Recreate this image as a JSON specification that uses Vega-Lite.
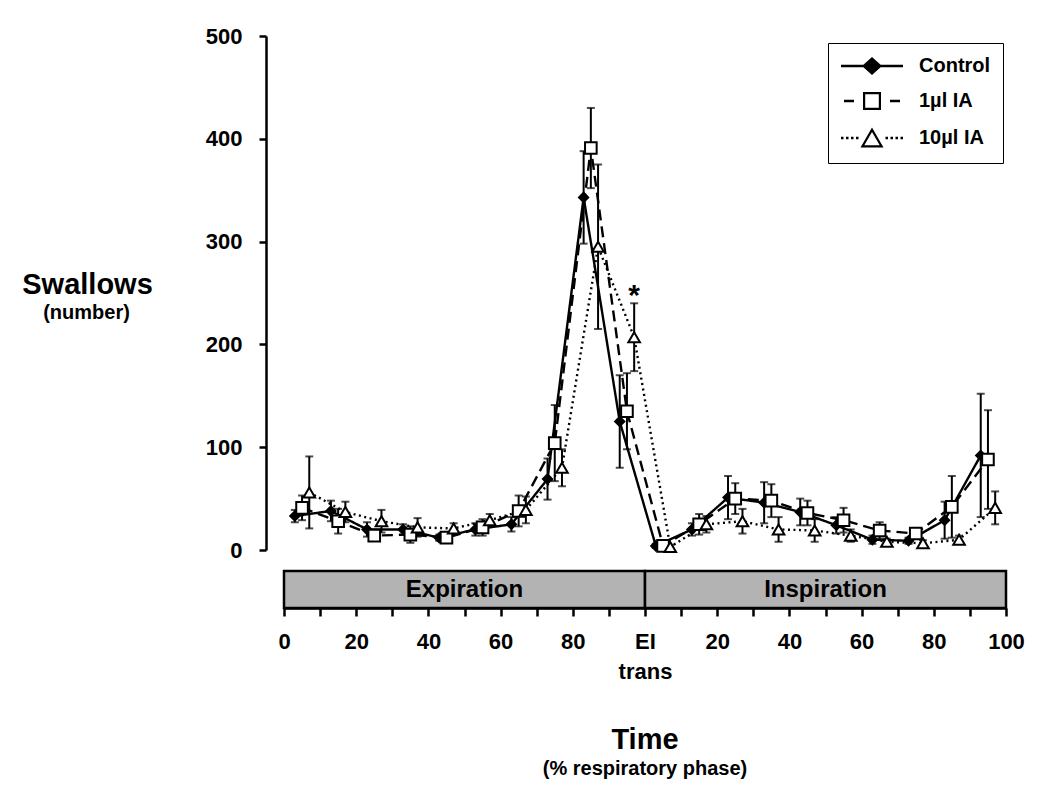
{
  "$schema": "https://vega.github.io/schema/vega-lite/v6.json",
  "background": "white",
  "padding": {"left": 21, "top": 25, "right": 5, "bottom": 5},
  "config": {
    "font": "Liberation Sans",
    "view": {"stroke": null},
    "axis": {"grid": false, "labelFont": "Liberation Sans", "titleFont": "Liberation Sans", "labelFontWeight": "bold", "titleFontWeight": "bold", "labelColor": "black", "titleColor": "black", "domainColor": "black", "tickColor": "black"},
    "legend": {
      "orient": "none", "legendX": 544, "legendY": 7, "padding": 12,
      "strokeColor": "black", "fillColor": "white",
      "labelFont": "Liberation Sans", "labelFontSize": 20, "labelFontWeight": "bold", "labelColor": "black",
      "symbolSize": 400, "symbolFillColor": "black", "symbolOpacity": 1,
      "rowPadding": 11, "labelOffset": 57
    }
  },
  "datasets": {
    "series": [
      {"group": "Control", "x": 3, "mean": 33, "sem": 6},
      {"group": "Control", "x": 13, "mean": 38, "sem": 10},
      {"group": "Control", "x": 23, "mean": 20, "sem": 7},
      {"group": "Control", "x": 33, "mean": 20, "sem": 5},
      {"group": "Control", "x": 43, "mean": 12, "sem": 3},
      {"group": "Control", "x": 53, "mean": 20, "sem": 6},
      {"group": "Control", "x": 63, "mean": 25, "sem": 7},
      {"group": "Control", "x": 73, "mean": 69, "sem": 20},
      {"group": "Control", "x": 83, "mean": 343, "sem": 45},
      {"group": "Control", "x": 93, "mean": 125, "sem": 45},
      {"group": "Control", "x": 103, "mean": 4, "sem": 2},
      {"group": "Control", "x": 113, "mean": 20, "sem": 6},
      {"group": "Control", "x": 123, "mean": 51, "sem": 21},
      {"group": "Control", "x": 133, "mean": 46, "sem": 20},
      {"group": "Control", "x": 143, "mean": 37, "sem": 13},
      {"group": "Control", "x": 153, "mean": 24, "sem": 8},
      {"group": "Control", "x": 163, "mean": 10, "sem": 4},
      {"group": "Control", "x": 173, "mean": 9, "sem": 3},
      {"group": "Control", "x": 183, "mean": 29, "sem": 18},
      {"group": "Control", "x": 193, "mean": 92, "sem": 60},
      {"group": "1µl IA", "x": 5, "mean": 41, "sem": 12},
      {"group": "1µl IA", "x": 15, "mean": 28, "sem": 12},
      {"group": "1µl IA", "x": 25, "mean": 14, "sem": 5},
      {"group": "1µl IA", "x": 35, "mean": 15, "sem": 8},
      {"group": "1µl IA", "x": 45, "mean": 12, "sem": 4},
      {"group": "1µl IA", "x": 55, "mean": 22, "sem": 8},
      {"group": "1µl IA", "x": 65, "mean": 38, "sem": 15},
      {"group": "1µl IA", "x": 75, "mean": 104, "sem": 37},
      {"group": "1µl IA", "x": 85, "mean": 391, "sem": 39},
      {"group": "1µl IA", "x": 95, "mean": 135, "sem": 37},
      {"group": "1µl IA", "x": 105, "mean": 4, "sem": 2},
      {"group": "1µl IA", "x": 115, "mean": 25, "sem": 10},
      {"group": "1µl IA", "x": 125, "mean": 50, "sem": 15},
      {"group": "1µl IA", "x": 135, "mean": 48, "sem": 16},
      {"group": "1µl IA", "x": 145, "mean": 36, "sem": 12},
      {"group": "1µl IA", "x": 155, "mean": 29, "sem": 12},
      {"group": "1µl IA", "x": 165, "mean": 19, "sem": 8},
      {"group": "1µl IA", "x": 175, "mean": 16, "sem": 4},
      {"group": "1µl IA", "x": 185, "mean": 42, "sem": 30},
      {"group": "1µl IA", "x": 195, "mean": 88, "sem": 48},
      {"group": "10µl IA", "x": 7, "mean": 56, "sem": 35},
      {"group": "10µl IA", "x": 17, "mean": 37, "sem": 10},
      {"group": "10µl IA", "x": 27, "mean": 28, "sem": 11},
      {"group": "10µl IA", "x": 37, "mean": 22, "sem": 9},
      {"group": "10µl IA", "x": 47, "mean": 21, "sem": 5},
      {"group": "10µl IA", "x": 57, "mean": 29, "sem": 6},
      {"group": "10µl IA", "x": 67, "mean": 39, "sem": 13},
      {"group": "10µl IA", "x": 77, "mean": 80, "sem": 18},
      {"group": "10µl IA", "x": 87, "mean": 295, "sem": 80},
      {"group": "10µl IA", "x": 97, "mean": 207, "sem": 33},
      {"group": "10µl IA", "x": 107, "mean": 3, "sem": 2},
      {"group": "10µl IA", "x": 117, "mean": 25, "sem": 8},
      {"group": "10µl IA", "x": 127, "mean": 28, "sem": 12},
      {"group": "10µl IA", "x": 137, "mean": 20, "sem": 12},
      {"group": "10µl IA", "x": 147, "mean": 19, "sem": 11},
      {"group": "10µl IA", "x": 157, "mean": 14, "sem": 6},
      {"group": "10µl IA", "x": 167, "mean": 8, "sem": 3},
      {"group": "10µl IA", "x": 177, "mean": 6.5, "sem": 3},
      {"group": "10µl IA", "x": 187, "mean": 10, "sem": 4},
      {"group": "10µl IA", "x": 197, "mean": 41, "sem": 16}
    ],
    "phases": [
      {"phase": "Expiration", "start": 0, "end": 100},
      {"phase": "Inspiration", "start": 100, "end": 200}
    ],
    "notes": [
      {"x": 97, "y": 238, "label": "*"}
    ]
  },
  "bounds": "flush",
  "spacing": 21,
  "vconcat": [
    {
      "width": 722,
      "height": 514,
      "data": {"name": "series"},
      "layer": [
        {
          "mark": {"type": "line", "color": "black", "strokeWidth": 2.4},
          "encoding": {
            "x": {"field": "x", "type": "quantitative", "scale": {"domain": [0, 200], "nice": false}, "axis": null},
            "y": {"field": "mean", "type": "quantitative", "scale": {"domain": [0, 500], "nice": false},
              "axis": {"orient": "left", "values": [0, 100, 200, 300, 400, 500], "offset": 18, "tickSize": 7, "tickWidth": 2.5, "domainWidth": 2.5,
                "labelFontSize": 22, "labelPadding": 17,
                "title": "Swallows", "titleFontSize": 29, "titleAngle": 0, "titleAlign": "center", "titleBaseline": "alphabetic", "titleX": -179, "titleY": 257}},
            "detail": {"field": "group", "type": "nominal"},
            "strokeDash": {"condition": [{"test": "datum.group === 'Control'", "value": [1, 0]}, {"test": "datum.group === '1µl IA'", "value": [11, 6]}], "value": [2, 3.5]}
          }
        },
        {
          "mark": {"type": "errorbar", "ticks": true, "size": 8, "thickness": 2, "color": "black"},
          "encoding": {
            "x": {"field": "x", "type": "quantitative", "scale": {"domain": [0, 200], "nice": false}, "axis": null},
            "y": {"field": "mean", "type": "quantitative", "scale": {"domain": [0, 500], "nice": false}, "axis": null},
            "yError": {"field": "sem"}
          }
        },
        {
          "mark": {"type": "point", "filled": true, "stroke": "black", "strokeWidth": 2, "opacity": 1},
          "encoding": {
            "x": {"field": "x", "type": "quantitative", "scale": {"domain": [0, 200], "nice": false}, "axis": null},
            "y": {"field": "mean", "type": "quantitative", "scale": {"domain": [0, 500], "nice": false}, "axis": null},
            "shape": {"condition": [{"test": "datum.group === 'Control'", "value": "diamond"}, {"test": "datum.group === '1µl IA'", "value": "square"}], "value": "triangle-up"},
            "fill": {"condition": {"test": "datum.group === 'Control'", "value": "black"}, "value": "white"},
            "size": {"condition": {"test": "datum.group === 'Control'", "value": 85}, "value": 135}
          }
        },
        {
          "mark": {"type": "point", "filled": true, "fill": "black", "opacity": 0},
          "encoding": {
            "x": {"field": "x", "type": "quantitative", "scale": {"domain": [0, 200], "nice": false}, "axis": null},
            "y": {"field": "mean", "type": "quantitative", "scale": {"domain": [0, 500], "nice": false}, "axis": null},
            "shape": {"field": "group", "type": "nominal",
              "scale": {"domain": ["Control", "1µl IA", "10µl IA"],
                "range": [
                  "M-1,-0.12H1.3V0.12H-1ZM2.1,-0.9L3.1,0L2.1,0.9L1.1,0ZM2.9,-0.12H5.2V0.12H2.9Z",
                  "M-0.7,-0.12H0.3V0.12H-0.7ZM1.2,-0.9H3V0.9H1.2ZM1.42,-0.68V0.68H2.78V-0.68ZM3.9,-0.12H4.9V0.12H3.9Z",
                  "M-1,-0.12H-0.75V0.12H-1ZM-0.5,-0.12H-0.25V0.12H-0.5ZM0,-0.12H0.25V0.12H0ZM0.5,-0.12H0.75V0.12H0.5ZM3.45,-0.12H3.7V0.12H3.45ZM3.95,-0.12H4.2V0.12H3.95ZM4.45,-0.12H4.7V0.12H4.45ZM4.95,-0.12H5.2V0.12H4.95ZM2.1,-1.05L3.25,0.95L0.95,0.95ZM2.1,-0.61L1.33,0.73L2.87,0.73Z"
                ]},
              "legend": {"title": null}}
          }
        },
        {
          "data": {"name": "notes"},
          "mark": {"type": "text", "fontSize": 30, "fontWeight": "bold", "align": "center", "baseline": "alphabetic", "color": "black"},
          "encoding": {
            "x": {"field": "x", "type": "quantitative", "scale": {"domain": [0, 200], "nice": false}, "axis": null},
            "y": {"field": "y", "type": "quantitative", "scale": {"domain": [0, 500], "nice": false},
              "axis": {"orient": "left", "offset": 18, "labels": false, "ticks": false, "domain": false,
                "title": "(number)", "titleFontSize": 20, "titleAngle": 0, "titleAlign": "center", "titleBaseline": "alphabetic", "titleX": -180, "titleY": 282}},
            "text": {"field": "label"}
          }
        }
      ],
      "resolve": {"axis": {"y": "independent"}}
    },
    {
      "width": 722,
      "height": 37,
      "data": {"name": "phases"},
      "layer": [
        {
          "mark": {"type": "rect", "fill": "#b3b3b3", "stroke": "black", "strokeWidth": 2.5},
          "encoding": {
            "x": {"field": "start", "type": "quantitative", "scale": {"domain": [0, 200], "nice": false},
              "axis": {"orient": "bottom", "values": [0, 10, 20, 30, 40, 50, 60, 70, 80, 90, 100, 110, 120, 130, 140, 150, 160, 170, 180, 190, 200],
                "labelExpr": "datum.value == 100 ? ['EI', 'trans'] : (datum.value % 20 == 0 ? '' + (datum.value > 100 ? datum.value - 100 : datum.value) : '')",
                "tickSize": 8, "tickWidth": 2.5, "domainWidth": 2.5, "labelFontSize": 22, "labelPadding": 15, "labelLineHeight": 30,
                "labelOverlap": false, "labelFlush": false, "labelBound": false,
                "title": "Time", "titleFontSize": 29, "titleAlign": "center", "titleBaseline": "alphabetic", "titleX": 360.5, "titleY": 140}},
            "x2": {"field": "end"},
            "y": {"datum": "band", "type": "nominal", "scale": {"paddingInner": 0, "paddingOuter": 0}, "axis": null}
          }
        },
        {
          "mark": {"type": "text", "dx": 180.5, "fontSize": 24, "fontWeight": "bold", "align": "center", "baseline": "middle", "color": "black"},
          "encoding": {
            "x": {"field": "start", "type": "quantitative", "scale": {"domain": [0, 200], "nice": false},
              "axis": {"orient": "bottom", "labels": false, "ticks": false, "domain": false,
                "title": "(% respiratory phase)", "titleFontSize": 20, "titleAlign": "center", "titleBaseline": "alphabetic", "titleX": 360.5, "titleY": 166}},
            "y": {"datum": "band", "type": "nominal", "axis": null},
            "text": {"field": "phase"}
          }
        }
      ],
      "resolve": {"axis": {"x": "independent"}}
    }
  ]
}
